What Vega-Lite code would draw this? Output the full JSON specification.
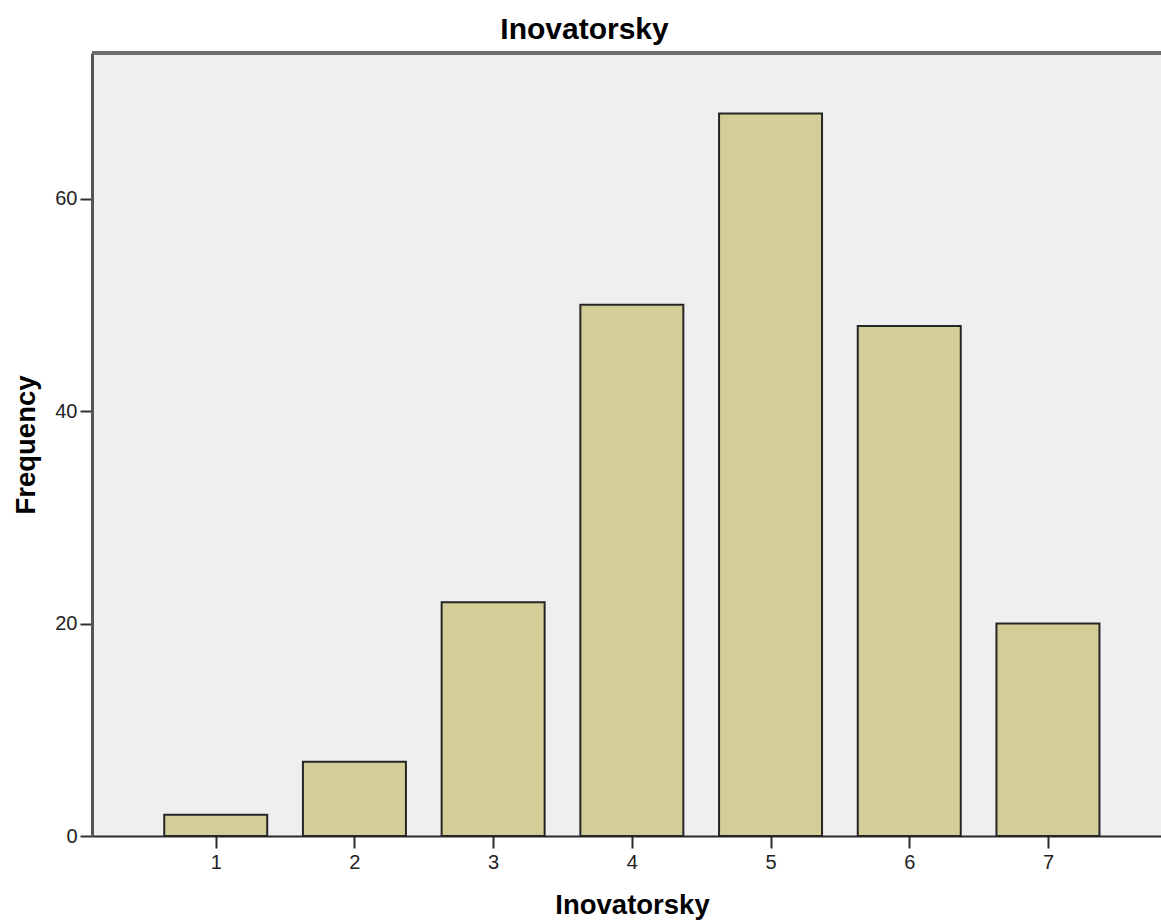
{
  "$schema": "https://vega.github.io/schema/vega-lite/v6.json",
  "width": 1069,
  "height": 783,
  "autosize": {"type": "none"},
  "padding": {"left": 92, "top": 53, "right": 0, "bottom": 88},
  "background": "white",
  "title": {
    "text": "Inovatorsky",
    "font": "Liberation Sans",
    "fontSize": 30,
    "fontWeight": "bold",
    "color": "#000000",
    "anchor": "middle",
    "dx": -42,
    "offset": 7
  },
  "config": {
    "view": {"stroke": null, "fill": "#efefef"},
    "axis": {
      "grid": false,
      "labelFont": "Liberation Sans",
      "labelFontSize": 20,
      "labelColor": "#222222",
      "titleFont": "Liberation Sans",
      "titleFontSize": 27.5,
      "titleFontWeight": "bold",
      "titleColor": "#000000"
    }
  },
  "data": {
    "values": [
      {"value": 1, "freq": 2},
      {"value": 2, "freq": 7},
      {"value": 3, "freq": 22},
      {"value": 4, "freq": 50},
      {"value": 5, "freq": 68},
      {"value": 6, "freq": 48},
      {"value": 7, "freq": 20}
    ]
  },
  "layer": [
    {
      "mark": {"type": "bar", "size": 103, "fill": "#d3ce97", "stroke": "#262626", "strokeWidth": 2},
      "encoding": {
        "x": {
          "field": "value",
          "type": "quantitative",
          "scale": {"domain": [0.108, 7.815], "nice": false, "zero": false, "padding": 0},
          "axis": {
            "values": [1, 2, 3, 4, 5, 6, 7],
            "format": "d",
            "title": "Inovatorsky",
            "titleX": 540,
            "titlePadding": 19,
            "domainColor": "#2b2b2b",
            "domainWidth": 2,
            "tickColor": "#2b2b2b",
            "tickWidth": 2,
            "tickSize": 12,
            "labelPadding": 4
          }
        },
        "y": {
          "field": "freq",
          "type": "quantitative",
          "scale": {"domain": [0, 73.7], "nice": false},
          "axis": {
            "values": [0, 20, 40, 60],
            "title": "Frequency",
            "titlePadding": 14,
            "domainColor": "#555555",
            "domainWidth": 3,
            "tickColor": "#333333",
            "tickWidth": 2,
            "tickSize": 12,
            "labelPadding": 3
          }
        }
      }
    },
    {
      "mark": {"type": "rule", "color": "#6e6e6e", "strokeWidth": 3},
      "encoding": {"y": {"datum": 73.7, "type": "quantitative"}}
    }
  ]
}
